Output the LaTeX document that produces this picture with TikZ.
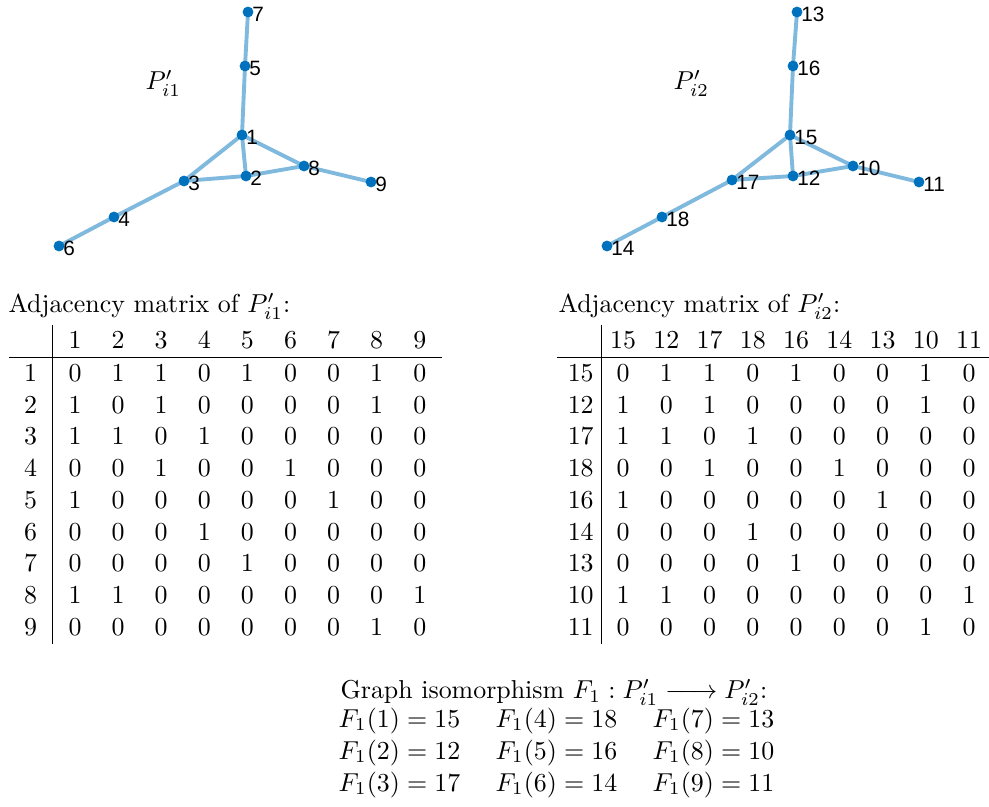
\documentclass[tikz,border=0pt]{standalone}
\usepackage{fontspec}
\newfontfamily\labelfont{Liberation Sans}
\usepackage{xcolor}
\usepackage{tikz}
\usetikzlibrary{positioning,backgrounds}
\definecolor{vertexblue}{HTML}{0072BD}
\definecolor{edgeblue}{HTML}{80B9DE}
\newcommand{\longmap}{\mathrel{\hbox to 20pt{\rightarrowfill}}}

\begin{document}
\begin{tikzpicture}[
  x=0.3861pt, y=-0.3861pt,
  vertex/.style={circle, fill=vertexblue, inner sep=0pt, minimum size=4.2pt},
  vlabel/.style={anchor=west, inner sep=0pt, xshift=1.5pt, yshift=-0.8pt, font=\labelfont\fontsize{8}{9}\selectfont},
  edge/.style={draw=edgeblue, line width=1.5pt},
  gname/.style={anchor=base west, inner sep=0pt},
  entry/.style={anchor=base, inner sep=0pt},
  caption/.style={anchor=base west, inner sep=0pt},
  rule/.style={line width=0.4pt}
]
\useasboundingbox (0,0) rectangle (989,807);

% graph P'_{i1}
\foreach \n/\x/\y in {1/242/135, 2/246/176, 3/184/181, 4/114/217, 5/245/66,
                      6/59/246, 7/248/12, 8/304/166, 9/371/182}{
  \node[vertex] (a\n) at (\x,\y) {};
  \node[vlabel] (la\n) at (a\n.center) {\n};
}
\node[gname] (namea) at (145,90) {$P'_{i1}$};
\begin{scope}[on background layer]
\foreach \u/\v in {1/2, 1/3, 1/5, 1/8, 2/3, 2/8, 3/4, 4/6, 5/7, 8/9}
  \draw[edge] (a\u.center) -- (a\v.center);
\end{scope}

% graph P'_{i2}
\foreach \n/\x/\y in {15/790/135, 12/793/176, 17/732/180, 18/662/217, 16/793/66,
                      14/607/246, 13/797/12, 10/853/166, 11/919/182}{
  \node[vertex] (b\n) at (\x,\y) {};
  \node[vlabel] (lb\n) at (b\n.center) {\n};
}
\node[gname] (nameb) at (673,90) {$P'_{i2}$};
\begin{scope}[on background layer]
\foreach \u/\v in {15/12, 15/17, 15/16, 15/10, 12/17, 12/10, 17/18, 18/14, 16/13, 10/11}
  \draw[edge] (b\u.center) -- (b\v.center);
\end{scope}

% adjacency matrices
\node[caption] (titlea) at (8,313) {Adjacency matrix of $P'_{i1}$:};
\node[caption] (titleb) at (558,313) {Adjacency matrix of $P'_{i2}$:};

\foreach \h [count=\c] in {1,2,3,4,5,6,7,8,9}{
  \node[entry] (ha-\c) at ({75+43.1*(\c-1)},349) {\h};
  \node[entry] (ra-\c) at (30.7,{381.3+31.75*(\c-1)}) {\h};
}
\foreach \h [count=\c] in {15,12,17,18,16,14,13,10,11}{
  \node[entry] (hb-\c) at ({623+43.25*(\c-1)},349) {\h};
  \node[entry] (rb-\c) at (580.7,{381.3+31.75*(\c-1)}) {\h};
}

\foreach \row [count=\r] in {{0,1,1,0,1,0,0,1,0}, {1,0,1,0,0,0,0,1,0},
    {1,1,0,1,0,0,0,0,0}, {0,0,1,0,0,1,0,0,0}, {1,0,0,0,0,0,1,0,0},
    {0,0,0,1,0,0,0,0,0}, {0,0,0,0,1,0,0,0,0}, {1,1,0,0,0,0,0,0,1},
    {0,0,0,0,0,0,0,1,0}}{
  \foreach \v [count=\c] in \row{
    \node[entry] (ma-\r-\c) at ({75+43.1*(\c-1)},{381.3+31.75*(\r-1)}) {\v};
    \node[entry] (mb-\r-\c) at ({623+43.25*(\c-1)},{381.3+31.75*(\r-1)}) {\v};
  }
}

\draw[rule] (52.3,325) -- (52.3,644);
\draw[rule] (9,357.3) -- (441.7,357.3);
\draw[rule] (601.7,325) -- (601.7,644);
\draw[rule] (557.3,357.3) -- (989,357.3);

% isomorphism
\node[caption] (isotitle) at (340,699) {Graph isomorphism $F_1 : P'_{i1} \longmap P'_{i2}$:};
\foreach \i/\j [count=\k from 0] in {1/15, 2/12, 3/17, 4/18, 5/16, 6/14, 7/13, 8/10, 9/11}{
  \pgfmathtruncatemacro{\col}{int(\k/3)}
  \pgfmathtruncatemacro{\lin}{mod(\k,3)}
  \node[caption] (map\i) at ({338+157*\col},{727+32*\lin}) {$F_1(\i) = \j$};
}
\end{tikzpicture}
\end{document}
